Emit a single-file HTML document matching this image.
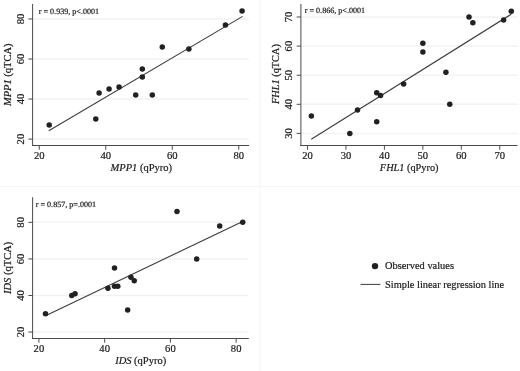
<!DOCTYPE html>
<html><head><meta charset="utf-8"><title>Figure</title>
<style>
html,body{margin:0;padding:0;background:#fff;}
svg{display:block;}
svg text{font-family:"Liberation Serif", "Times New Roman", serif;fill:#1a1a1a;stroke:#1a1a1a;stroke-width:0.2px;}
</style></head>
<body>
<svg width="520" height="371" viewBox="0 0 520 371">
<rect x="0" y="0" width="520" height="371" fill="#ffffff"/>
<line x1="0" y1="186.5" x2="520" y2="186.5" stroke="#f5f5f5" stroke-width="1"/>
<line x1="259.9" y1="0" x2="259.9" y2="371" stroke="#f5f5f5" stroke-width="1"/>
<line x1="32.6" y1="139.10" x2="249" y2="139.10" stroke="#f2f2f2" stroke-width="1.5"/>
<line x1="32.6" y1="99.06" x2="249" y2="99.06" stroke="#f2f2f2" stroke-width="1.5"/>
<line x1="32.6" y1="59.02" x2="249" y2="59.02" stroke="#f2f2f2" stroke-width="1.5"/>
<line x1="32.6" y1="18.98" x2="249" y2="18.98" stroke="#f2f2f2" stroke-width="1.5"/>
<line x1="32.6" y1="4" x2="32.6" y2="146.0" stroke="#4a4a4a" stroke-width="1"/>
<line x1="32.1" y1="145.5" x2="249" y2="145.5" stroke="#4a4a4a" stroke-width="1"/>
<line x1="28.400000000000002" y1="139.10" x2="32.6" y2="139.10" stroke="#4a4a4a" stroke-width="1"/>
<text transform="translate(23.60,139.10) rotate(-90)" text-anchor="middle" font-size="10.6">20</text>
<line x1="28.400000000000002" y1="99.06" x2="32.6" y2="99.06" stroke="#4a4a4a" stroke-width="1"/>
<text transform="translate(23.60,99.06) rotate(-90)" text-anchor="middle" font-size="10.6">40</text>
<line x1="28.400000000000002" y1="59.02" x2="32.6" y2="59.02" stroke="#4a4a4a" stroke-width="1"/>
<text transform="translate(23.60,59.02) rotate(-90)" text-anchor="middle" font-size="10.6">60</text>
<line x1="28.400000000000002" y1="18.98" x2="32.6" y2="18.98" stroke="#4a4a4a" stroke-width="1"/>
<text transform="translate(23.60,18.98) rotate(-90)" text-anchor="middle" font-size="10.6">80</text>
<line x1="39.25" y1="145.5" x2="39.25" y2="149.7" stroke="#4a4a4a" stroke-width="1"/>
<text x="39.25" y="159.40" text-anchor="middle" font-size="10.6">20</text>
<line x1="105.75" y1="145.5" x2="105.75" y2="149.7" stroke="#4a4a4a" stroke-width="1"/>
<text x="105.75" y="159.40" text-anchor="middle" font-size="10.6">40</text>
<line x1="172.25" y1="145.5" x2="172.25" y2="149.7" stroke="#4a4a4a" stroke-width="1"/>
<text x="172.25" y="159.40" text-anchor="middle" font-size="10.6">60</text>
<line x1="238.75" y1="145.5" x2="238.75" y2="149.7" stroke="#4a4a4a" stroke-width="1"/>
<text x="238.75" y="159.40" text-anchor="middle" font-size="10.6">80</text>
<line x1="48.75" y1="130.75" x2="242.6" y2="16.4" stroke="#3c3c3c" stroke-width="1.1"/>
<circle cx="49.23" cy="125.09" r="2.75" fill="#212121"/>
<circle cx="95.78" cy="119.08" r="2.75" fill="#212121"/>
<circle cx="99.10" cy="93.05" r="2.75" fill="#212121"/>
<circle cx="109.08" cy="89.05" r="2.75" fill="#212121"/>
<circle cx="119.05" cy="87.05" r="2.75" fill="#212121"/>
<circle cx="135.68" cy="95.06" r="2.75" fill="#212121"/>
<circle cx="142.32" cy="77.04" r="2.75" fill="#212121"/>
<circle cx="142.32" cy="69.03" r="2.75" fill="#212121"/>
<circle cx="152.30" cy="95.06" r="2.75" fill="#212121"/>
<circle cx="162.28" cy="47.01" r="2.75" fill="#212121"/>
<circle cx="188.88" cy="49.01" r="2.75" fill="#212121"/>
<circle cx="225.45" cy="24.99" r="2.75" fill="#212121"/>
<circle cx="242.08" cy="10.97" r="2.75" fill="#212121"/>
<text x="141.30" y="170.50" text-anchor="middle" font-size="10.5"><tspan font-style="italic">MPP1</tspan> (qPyro)</text>
<text transform="translate(11.20,74.75) rotate(-90)" text-anchor="middle" font-size="10.5"><tspan font-style="italic">MPP1</tspan> (qTCA)</text>
<text x="38.75" y="13.5" font-size="8.1" stroke-width="0.1" text-rendering="geometricPrecision">r = 0.939, p&lt;.0001</text>
<line x1="300.9" y1="133.40" x2="517.5" y2="133.40" stroke="#f2f2f2" stroke-width="1.5"/>
<line x1="300.9" y1="104.30" x2="517.5" y2="104.30" stroke="#f2f2f2" stroke-width="1.5"/>
<line x1="300.9" y1="75.20" x2="517.5" y2="75.20" stroke="#f2f2f2" stroke-width="1.5"/>
<line x1="300.9" y1="46.10" x2="517.5" y2="46.10" stroke="#f2f2f2" stroke-width="1.5"/>
<line x1="300.9" y1="17.00" x2="517.5" y2="17.00" stroke="#f2f2f2" stroke-width="1.5"/>
<line x1="300.9" y1="4" x2="300.9" y2="146.0" stroke="#4a4a4a" stroke-width="1"/>
<line x1="300.4" y1="145.5" x2="517.5" y2="145.5" stroke="#4a4a4a" stroke-width="1"/>
<line x1="296.7" y1="133.40" x2="300.9" y2="133.40" stroke="#4a4a4a" stroke-width="1"/>
<text transform="translate(291.50,133.40) rotate(-90)" text-anchor="middle" font-size="10.6">30</text>
<line x1="296.7" y1="104.30" x2="300.9" y2="104.30" stroke="#4a4a4a" stroke-width="1"/>
<text transform="translate(291.50,104.30) rotate(-90)" text-anchor="middle" font-size="10.6">40</text>
<line x1="296.7" y1="75.20" x2="300.9" y2="75.20" stroke="#4a4a4a" stroke-width="1"/>
<text transform="translate(291.50,75.20) rotate(-90)" text-anchor="middle" font-size="10.6">50</text>
<line x1="296.7" y1="46.10" x2="300.9" y2="46.10" stroke="#4a4a4a" stroke-width="1"/>
<text transform="translate(291.50,46.10) rotate(-90)" text-anchor="middle" font-size="10.6">60</text>
<line x1="296.7" y1="17.00" x2="300.9" y2="17.00" stroke="#4a4a4a" stroke-width="1"/>
<text transform="translate(291.50,17.00) rotate(-90)" text-anchor="middle" font-size="10.6">70</text>
<line x1="307.50" y1="145.5" x2="307.50" y2="149.7" stroke="#4a4a4a" stroke-width="1"/>
<text x="307.50" y="159.40" text-anchor="middle" font-size="10.6">20</text>
<line x1="345.95" y1="145.5" x2="345.95" y2="149.7" stroke="#4a4a4a" stroke-width="1"/>
<text x="345.95" y="159.40" text-anchor="middle" font-size="10.6">30</text>
<line x1="384.40" y1="145.5" x2="384.40" y2="149.7" stroke="#4a4a4a" stroke-width="1"/>
<text x="384.40" y="159.40" text-anchor="middle" font-size="10.6">40</text>
<line x1="422.85" y1="145.5" x2="422.85" y2="149.7" stroke="#4a4a4a" stroke-width="1"/>
<text x="422.85" y="159.40" text-anchor="middle" font-size="10.6">50</text>
<line x1="461.30" y1="145.5" x2="461.30" y2="149.7" stroke="#4a4a4a" stroke-width="1"/>
<text x="461.30" y="159.40" text-anchor="middle" font-size="10.6">60</text>
<line x1="499.75" y1="145.5" x2="499.75" y2="149.7" stroke="#4a4a4a" stroke-width="1"/>
<text x="499.75" y="159.40" text-anchor="middle" font-size="10.6">70</text>
<line x1="311.25" y1="139.3" x2="511.3" y2="14.2" stroke="#3c3c3c" stroke-width="1.1"/>
<circle cx="311.35" cy="115.94" r="2.75" fill="#212121"/>
<circle cx="349.80" cy="133.40" r="2.75" fill="#212121"/>
<circle cx="357.49" cy="110.12" r="2.75" fill="#212121"/>
<circle cx="376.71" cy="121.76" r="2.75" fill="#212121"/>
<circle cx="376.71" cy="92.66" r="2.75" fill="#212121"/>
<circle cx="380.56" cy="95.57" r="2.75" fill="#212121"/>
<circle cx="403.62" cy="83.93" r="2.75" fill="#212121"/>
<circle cx="422.85" cy="51.92" r="2.75" fill="#212121"/>
<circle cx="422.85" cy="43.19" r="2.75" fill="#212121"/>
<circle cx="445.92" cy="72.29" r="2.75" fill="#212121"/>
<circle cx="449.76" cy="104.30" r="2.75" fill="#212121"/>
<circle cx="468.99" cy="17.00" r="2.75" fill="#212121"/>
<circle cx="472.84" cy="22.82" r="2.75" fill="#212121"/>
<circle cx="503.60" cy="19.91" r="2.75" fill="#212121"/>
<circle cx="511.28" cy="11.18" r="2.75" fill="#212121"/>
<text x="409.20" y="170.50" text-anchor="middle" font-size="10.3"><tspan font-style="italic">FHL1</tspan> (qPyro)</text>
<text transform="translate(278.90,74.05) rotate(-90)" text-anchor="middle" font-size="10.3"><tspan font-style="italic">FHL1</tspan> (qTCA)</text>
<text x="304.75" y="12.5" font-size="8.1" stroke-width="0.1" text-rendering="geometricPrecision">r = 0.866, p&lt;.0001</text>
<line x1="32.6" y1="332.05" x2="248.75" y2="332.05" stroke="#f2f2f2" stroke-width="1.5"/>
<line x1="32.6" y1="295.49" x2="248.75" y2="295.49" stroke="#f2f2f2" stroke-width="1.5"/>
<line x1="32.6" y1="258.93" x2="248.75" y2="258.93" stroke="#f2f2f2" stroke-width="1.5"/>
<line x1="32.6" y1="222.37" x2="248.75" y2="222.37" stroke="#f2f2f2" stroke-width="1.5"/>
<line x1="32.6" y1="197.25" x2="32.6" y2="339.0" stroke="#4a4a4a" stroke-width="1"/>
<line x1="32.1" y1="338.5" x2="248.75" y2="338.5" stroke="#4a4a4a" stroke-width="1"/>
<line x1="28.400000000000002" y1="332.05" x2="32.6" y2="332.05" stroke="#4a4a4a" stroke-width="1"/>
<text transform="translate(23.60,332.05) rotate(-90)" text-anchor="middle" font-size="10.6">20</text>
<line x1="28.400000000000002" y1="295.49" x2="32.6" y2="295.49" stroke="#4a4a4a" stroke-width="1"/>
<text transform="translate(23.60,295.49) rotate(-90)" text-anchor="middle" font-size="10.6">40</text>
<line x1="28.400000000000002" y1="258.93" x2="32.6" y2="258.93" stroke="#4a4a4a" stroke-width="1"/>
<text transform="translate(23.60,258.93) rotate(-90)" text-anchor="middle" font-size="10.6">60</text>
<line x1="28.400000000000002" y1="222.37" x2="32.6" y2="222.37" stroke="#4a4a4a" stroke-width="1"/>
<text transform="translate(23.60,222.37) rotate(-90)" text-anchor="middle" font-size="10.6">80</text>
<line x1="38.90" y1="338.5" x2="38.90" y2="342.7" stroke="#4a4a4a" stroke-width="1"/>
<text x="38.90" y="352.40" text-anchor="middle" font-size="10.6">20</text>
<line x1="104.65" y1="338.5" x2="104.65" y2="342.7" stroke="#4a4a4a" stroke-width="1"/>
<text x="104.65" y="352.40" text-anchor="middle" font-size="10.6">40</text>
<line x1="170.40" y1="338.5" x2="170.40" y2="342.7" stroke="#4a4a4a" stroke-width="1"/>
<text x="170.40" y="352.40" text-anchor="middle" font-size="10.6">60</text>
<line x1="236.15" y1="338.5" x2="236.15" y2="342.7" stroke="#4a4a4a" stroke-width="1"/>
<text x="236.15" y="352.40" text-anchor="middle" font-size="10.6">80</text>
<line x1="45.6" y1="315.8" x2="242.7" y2="221.4" stroke="#3c3c3c" stroke-width="1.1"/>
<circle cx="45.48" cy="313.77" r="2.75" fill="#212121"/>
<circle cx="71.78" cy="295.49" r="2.75" fill="#212121"/>
<circle cx="75.06" cy="293.66" r="2.75" fill="#212121"/>
<circle cx="107.94" cy="288.18" r="2.75" fill="#212121"/>
<circle cx="114.51" cy="286.35" r="2.75" fill="#212121"/>
<circle cx="117.80" cy="286.35" r="2.75" fill="#212121"/>
<circle cx="114.51" cy="268.07" r="2.75" fill="#212121"/>
<circle cx="127.66" cy="310.11" r="2.75" fill="#212121"/>
<circle cx="130.95" cy="277.21" r="2.75" fill="#212121"/>
<circle cx="134.24" cy="280.87" r="2.75" fill="#212121"/>
<circle cx="176.98" cy="211.40" r="2.75" fill="#212121"/>
<circle cx="196.70" cy="258.93" r="2.75" fill="#212121"/>
<circle cx="219.71" cy="226.03" r="2.75" fill="#212121"/>
<circle cx="242.73" cy="222.37" r="2.75" fill="#212121"/>
<text x="140.68" y="363.50" text-anchor="middle" font-size="10.5"><tspan font-style="italic">IDS</tspan> (qPyro)</text>
<text transform="translate(11.20,267.88) rotate(-90)" text-anchor="middle" font-size="10.5"><tspan font-style="italic">IDS</tspan> (qTCA)</text>
<text x="35.75" y="206.5" font-size="8.1" stroke-width="0.1" text-rendering="geometricPrecision">r = 0.857, p=.0001</text>
<circle cx="375" cy="266.1" r="3.2" fill="#212121"/>
<text x="385.0" y="269.3" font-size="10.4">Observed values</text>
<line x1="360.6" y1="284.4" x2="380.4" y2="284.4" stroke="#3c3c3c" stroke-width="1"/>
<text x="385.0" y="288" font-size="10.4">Simple linear regression line</text>
</svg>
</body></html>
